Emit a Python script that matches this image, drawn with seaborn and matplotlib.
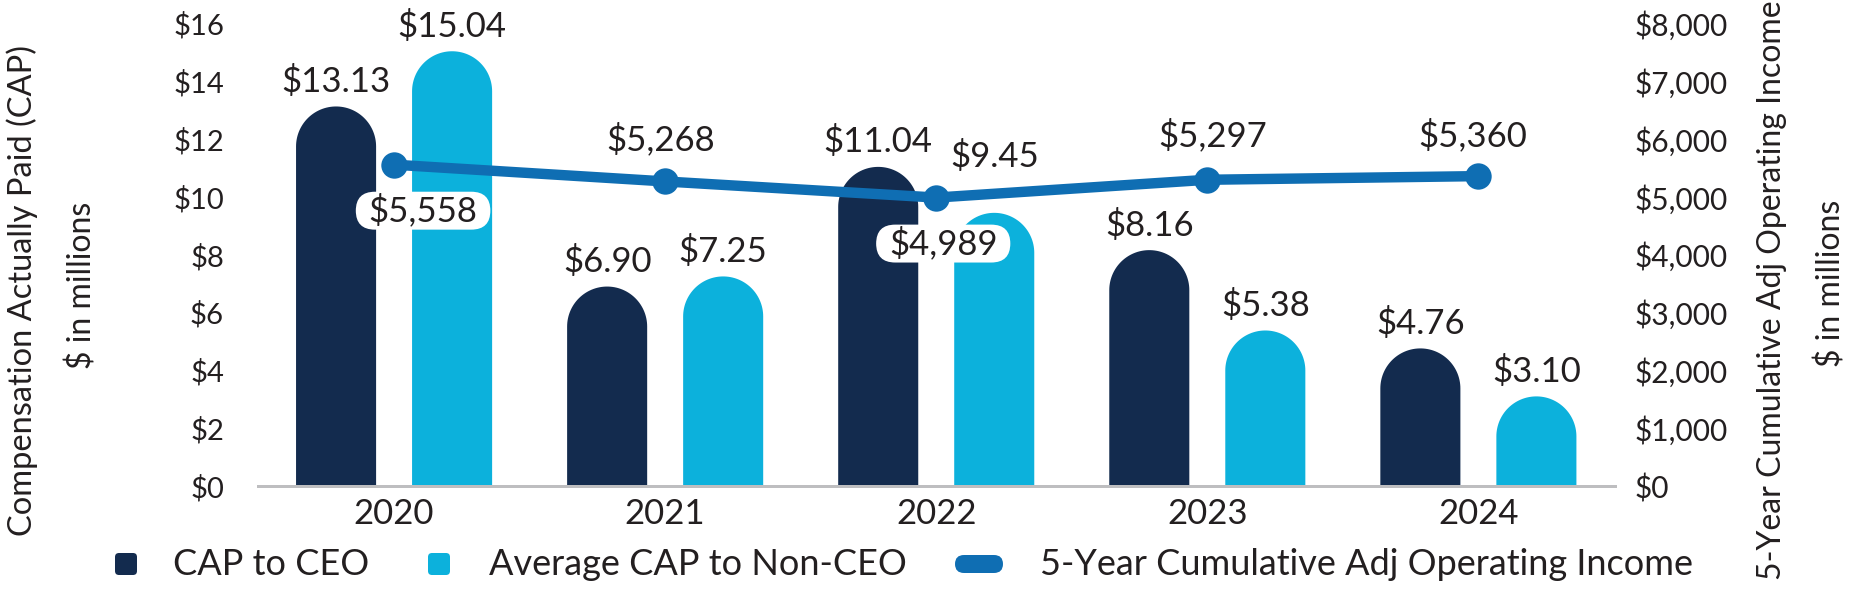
import numpy as np
import pandas as pd
import matplotlib
matplotlib.use("Agg")
import matplotlib.pyplot as plt
import seaborn as sns
from matplotlib.path import Path
from matplotlib.patches import PathPatch, FancyBboxPatch, BoxStyle

# ---------------- data ----------------
years = ["2020", "2021", "2022", "2023", "2024"]
cap_ceo = [13.13, 6.90, 11.04, 8.16, 4.76]
cap_non_ceo = [15.04, 7.25, 9.45, 5.38, 3.10]
op_income = [5558, 5268, 4989, 5297, 5360]
series_names = ["CAP to CEO", "Average CAP to Non-CEO",
                "5-Year Cumulative Adj Operating Income"]
left_ticks = [0, 2, 4, 6, 8, 10, 12, 14, 16]
right_ticks = [0, 1000, 2000, 3000, 4000, 5000, 6000, 7000, 8000]
left_title = "Compensation Actually Paid (CAP)"
right_title = "5-Year Cumulative Adj Operating Income"
unit_title = "$ in millions"

# ---------------- style ----------------
NAVY = "#132B4E"
CYAN = "#0CB1DC"
BLUE = "#0F6EB3"
TEXT = "#231F20"
GREY = "#BEBEC0"

sns.set_theme(style="white")
plt.rcParams["font.family"] = ["Lato", "DejaVu Sans"]

W, H, DPI = 1851, 592, 100
PT = 72.0 / DPI  # points per pixel

fig = plt.figure(figsize=(W / DPI, H / DPI), dpi=DPI)
ax_left, ax_right, ax_bot, ax_top = 258, 1615, 486, 23.5
ax = fig.add_axes([ax_left / W, 1 - ax_bot / H,
                   (ax_right - ax_left) / W, (ax_bot - ax_top) / H])

df = pd.DataFrame({
    "Year": years * 2,
    "Series": [series_names[0]] * len(years) + [series_names[1]] * len(years),
    "Value": cap_ceo + cap_non_ceo,
})
sns.barplot(data=df, x="Year", y="Value", hue="Series",
            palette=[NAVY, CYAN], saturation=1, width=0.856, gap=0.31,
            errorbar=None, legend=False, ax=ax)

XLIM = (-0.502, 4.504)
ax.set_xlim(*XLIM)
ax.set_ylim(0, 16)
ax.set_yticks(left_ticks)
ax.set_yticklabels([f"${v}" for v in left_ticks])
ax.set_xlabel("")
ax.set_ylabel("")
for s in ["top", "left", "right"]:
    ax.spines[s].set_visible(False)
ax.spines["bottom"].set_color(GREY)
ax.spines["bottom"].set_linewidth(3 * PT)
ax.spines["bottom"].set_zorder(5)
ax.tick_params(axis="y", length=0, pad=34 * PT, labelsize=21, labelcolor=TEXT)
ax.tick_params(axis="x", length=0, pad=12 * PT, labelsize=25, labelcolor=TEXT)

# ---- round the tops of the bars ----
bar_values = [cap_ceo, cap_non_ceo]
px_per_x = (ax_right - ax_left) / (XLIM[1] - XLIM[0])
px_per_y = (ax_bot - ax_top) / 16.0
bar_label_offset_px = {(1, 2): 56}
for i, cont in enumerate(ax.containers):
    for j, bar in enumerate(cont):
        x0, w, h = bar.get_x(), bar.get_width(), bar.get_height()
        r_px = w * px_per_x / 2
        ry = r_px / px_per_y
        xc = x0 + w / 2
        th = np.linspace(np.pi, 0, 60)
        verts = [(x0, 0), (x0, h - ry)]
        verts += list(zip(xc + (w / 2) * np.cos(th), (h - ry) + ry * np.sin(th)))
        verts += [(x0 + w, 0), (x0, 0)]
        codes = [Path.MOVETO] + [Path.LINETO] * (len(verts) - 2) + [Path.CLOSEPOLY]
        ax.add_patch(PathPatch(Path(verts, codes), facecolor=bar.get_facecolor(),
                               edgecolor="none", zorder=2))
        bar.set_visible(False)
        off = bar_label_offset_px.get((i, j), 25)
        ax.annotate(f"${bar_values[i][j]:.2f}", xy=(xc, h),
                    xytext=(0, off * PT), textcoords="offset points",
                    ha="center", va="center", fontsize=25, color=TEXT, zorder=6)

# ---------------- line on secondary axis ----------------
ax2 = ax.twinx()
xpos = np.arange(len(years))
sns.lineplot(x=xpos, y=op_income, ax=ax2, color=BLUE, linewidth=7.5,
             marker="o", markersize=19, markeredgewidth=0, legend=False)
ax2.set_ylim(0, 8000)
ax2.set_yticks(right_ticks)
ax2.set_yticklabels([f"${v:,}" for v in right_ticks])
ax2.set_ylabel("")
ax2.set_xlabel("")
for s in ax2.spines.values():
    s.set_visible(False)
ax2.tick_params(axis="y", length=0, pad=20 * PT, labelsize=21.5, labelcolor=TEXT)
ax2.grid(False)
ax.grid(False)


class PillBox:
    def __init__(self, padx, pady, r):
        self.padx, self.pady, self.r = padx, pady, r

    def __call__(self, x0, y0, width, height, mutation_size):
        px, py = self.padx * mutation_size, self.pady * mutation_size
        x0, y0 = x0 - px, y0 - py
        width, height = width + 2 * px, height + 2 * py
        return BoxStyle.Round(pad=0, rounding_size=self.r)(x0, y0, width, height,
                                                           mutation_size)


# label offsets (px): (dx, dy) with dy positive = upward
line_label_offset_px = [(29, -46), (-5, 42), (7, -46), (5, 44), (-6, 41)]
line_label_boxed = [True, False, True, False, False]
for k, v in enumerate(op_income):
    dx, dy = line_label_offset_px[k]
    kw = {}
    if line_label_boxed[k]:
        kw["bbox"] = dict(boxstyle=PillBox(0.37, 0.06, 0.55), fc="white", ec="none")
    ax2.annotate(f"${v:,}", xy=(xpos[k], v), xytext=(dx * PT, dy * PT),
                 textcoords="offset points", ha="center", va="center",
                 fontsize=25, color=TEXT, zorder=7, **kw)

ax.set_xlim(*XLIM)
ax2.set_xlim(*XLIM)

# ---------------- axis titles ----------------
def fx(x):
    return x / W


def fy(y):
    return 1 - y / H


fig.text(fx(22), fy(290), left_title, rotation=90, ha="center", va="center",
         fontsize=23.5, color=TEXT)
fig.text(fx(82), fy(285), unit_title, rotation=90, ha="center", va="center",
         fontsize=23, color=TEXT)
fig.text(fx(1772), fy(290), right_title, rotation=90, ha="center", va="center",
         fontsize=23, color=TEXT)
fig.text(fx(1831), fy(283), unit_title, rotation=90, ha="center", va="center",
         fontsize=23, color=TEXT)

# ---------------- legend (manual) ----------------
leg_base = 575
handles = [
    (115, 553, 22, 22, 4, NAVY, 173, series_names[0]),
    (428, 553, 22, 22, 4, CYAN, 489, series_names[1]),
    (955, 555, 48, 18, 9, BLUE, 1040, series_names[2]),
]
for (hx, hy, hw, hh, hr, col, tx, label) in handles:
    fig.patches.append(FancyBboxPatch(
        (hx, H - hy - hh), hw, hh,
        boxstyle=f"round,pad=0,rounding_size={hr}",
        facecolor=col, edgecolor="none", transform=None, figure=fig))
    fig.text(fx(tx), fy(leg_base), label, ha="left", va="baseline",
             fontsize=26, color=TEXT)

fig.savefig("out.png", dpi=DPI, facecolor="white")
